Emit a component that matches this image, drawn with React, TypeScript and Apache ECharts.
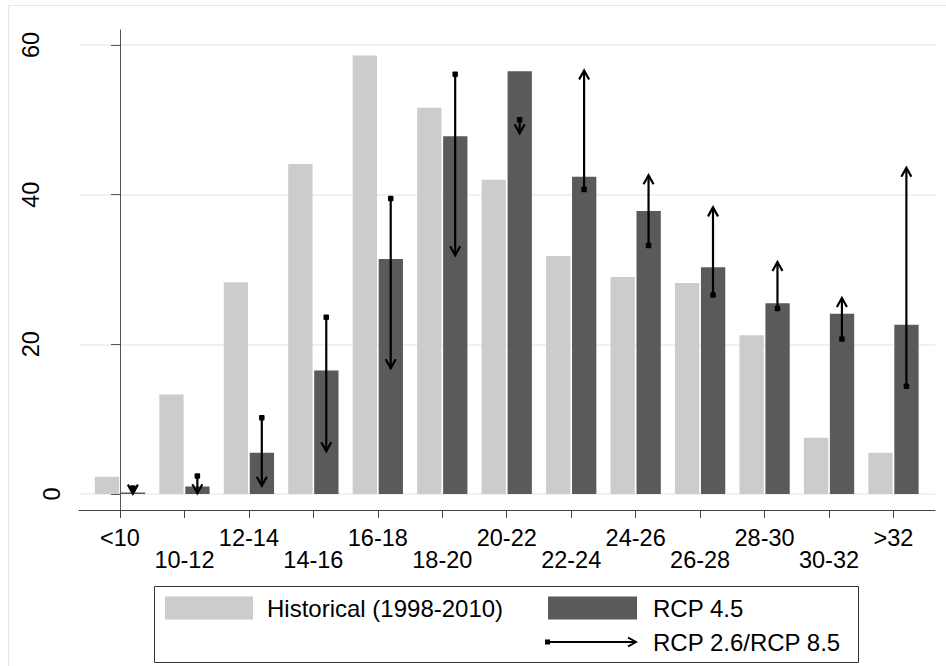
import React, { useEffect, useRef } from "react";
import * as echarts from "echarts";

const categories = ["<10", "10-12", "12-14", "14-16", "16-18", "18-20", "20-22", "22-24", "24-26", "26-28", "28-30", "30-32", ">32"];
const historical = [2.3, 13.3, 28.3, 44.1, 58.6, 51.6, 42.0, 31.8, 29.0, 28.2, 21.2, 7.5, 5.5];
const rcp45 = [0.2, 1.0, 5.5, 16.5, 31.4, 47.8, 56.5, 42.4, 37.8, 30.3, 25.5, 24.1, 22.6];
const rcp26 = [0.8, 2.4, 10.2, 23.6, 39.5, 56.1, 50.0, 40.7, 33.2, 26.6, 24.8, 20.7, 14.4];
const rcp85 = [0.05, 0.1, 1.1, 5.7, 16.8, 31.9, 48.2, 56.6, 42.6, 38.3, 31.0, 26.2, 43.6];
const yTicks = [0, 20, 40, 60];

const FONT = "'Liberation Sans', Arial, sans-serif";
const LIGHT = "#cccccc";
const DARK = "#5a5a5a";

function barSeries(name: string, values: number[], x0: number, x1: number, color: string) {
  return {
    type: "custom",
    name,
    itemStyle: { color },
    data: values.map((v, i) => [i, v]),
    encode: { x: 0, y: 1 },
    renderItem: (params: any, api: any) => {
      const i = api.value(0);
      const v = api.value(1);
      const p0 = api.coord([i + x0, v]);
      const p1 = api.coord([i + x1, 0]);
      return {
        type: "rect",
        shape: { x: p0[0], y: p0[1], width: p1[0] - p0[0], height: p1[1] - p0[1] },
        style: { fill: color },
      };
    },
  };
}

export default function App() {
  const ref = useRef<HTMLDivElement>(null);
  useEffect(() => {
    document.body.style.margin = "0";
    const chart = echarts.init(ref.current!, null, { renderer: "svg" });
    const arrowData = rcp26.map((s, i) => [i, s, rcp85[i]]);
    const labelBase = { fontFamily: FONT, fontSize: 23.5, color: "#000" };
    chart.setOption({
      animation: false,
      backgroundColor: "#ffffff",
      grid: { left: 79, right: 11, top: 30, bottom: 156 },
      xAxis: {
        type: "value",
        min: -0.636,
        max: 12.644,
        splitLine: { show: false },
        axisLine: { show: true, onZero: false, lineStyle: { color: "#444", width: 1 } },
        axisTick: {
          show: true,
          length: 8,
          customValues: categories.map((_, i) => i),
          lineStyle: { color: "#444" },
        },
        axisLabel: {
          customValues: categories.map((_, i) => i),
          formatter: (v: number) => {
            const i = Math.round(v);
            return i % 2 === 1 ? "\n" + categories[i] : categories[i];
          },
          margin: 17,
          lineHeight: 22,
          ...labelBase,
        },
      },
      yAxis: {
        type: "value",
        min: -2.14,
        max: 62.0,
        axisLine: { show: true, lineStyle: { color: "#555", width: 1 } },
        axisTick: { show: true, length: 9, customValues: yTicks, lineStyle: { color: "#555" } },
        axisLabel: {
          customValues: yTicks,
          rotate: 90,
          margin: 15,
          ...labelBase,
          formatter: (v: number) => (v === 0 ? "{z|" + v + "}" : "{n|" + v + "}"),
          rich: {
            z: { ...labelBase },
            n: { ...labelBase, padding: [0, 0, 21, 0] },
          },
        },
        splitLine: { show: true, lineStyle: { color: "#e6eff2", width: 1.5 } },
      },
      legend: [
        {
          data: [{ name: "Historical (1998-2010)", icon: "rect", itemStyle: { color: LIGHT } }],
          left: 165,
          top: 596,
          itemWidth: 88,
          itemHeight: 23,
          padding: 0,
          selectedMode: false,
          textStyle: { fontFamily: FONT, fontSize: 24, color: "#000", padding: [0, 0, 0, 9] },
        },
        {
          data: [{ name: "RCP 4.5", icon: "rect", itemStyle: { color: DARK } }],
          left: 548,
          top: 596,
          itemWidth: 89,
          itemHeight: 23,
          padding: 0,
          selectedMode: false,
          textStyle: { fontFamily: FONT, fontSize: 24, color: "#000", padding: [0, 0, 0, 11] },
        },
        {
          data: [
            {
              name: "RCP 2.6/RCP 8.5",
              icon: "path://M3,5L91,5L91,7L3,7Z M0,3.5L5,3.5L5,8.5L0,8.5Z M83.5,0.8L93,6L83.5,11.2L82.6,9.6L89.6,6L82.6,2.4Z",
              itemStyle: { color: "#000" },
            },
          ],
          left: 545,
          top: 630,
          itemWidth: 93,
          itemHeight: 10.4,
          padding: 0,
          selectedMode: false,
          textStyle: { fontFamily: FONT, fontSize: 24, color: "#000", padding: [0, 0, 0, 10] },
        },
      ],
      graphic: [
        {
          type: "rect",
          shape: { x: 8.5, y: 5.5, width: 1000, height: 1000 },
          style: { fill: "none", stroke: "#e6e6e6", lineWidth: 1 },
          silent: true,
          z: -10,
        },
        {
          type: "rect",
          shape: { x: 154.5, y: 586.5, width: 704, height: 76 },
          style: { fill: "none", stroke: "#333", lineWidth: 1 },
          silent: true,
        },
      ],
      series: [
        barSeries("Historical (1998-2010)", historical, -0.39, -0.013, LIGHT),
        barSeries("RCP 4.5", rcp45, 0.013, 0.39, DARK),
        {
          type: "custom",
          name: "RCP 2.6/RCP 8.5",
          itemStyle: { color: "#000" },
          data: arrowData,
          encode: { x: 0, y: [1, 2] },
          z: 5,
          renderItem: (params: any, api: any) => {
            const i = api.value(0);
            const s = api.coord([i + 0.2, api.value(1)]);
            const e = api.coord([i + 0.2, api.value(2)]);
            const u = e[1] > s[1] ? 1 : -1;
            return {
              type: "group",
              children: [
                {
                  type: "line",
                  shape: { x1: s[0], y1: s[1], x2: e[0], y2: e[1] },
                  style: { stroke: "#000", lineWidth: 2.2 },
                },
                {
                  type: "polyline",
                  shape: { points: [[e[0] - 5, e[1] - u * 9], [e[0], e[1]], [e[0] + 5, e[1] - u * 9]] },
                  style: { stroke: "#000", lineWidth: 2.2, fill: "none" },
                },
                {
                  type: "rect",
                  shape: { x: s[0] - 2.75, y: s[1] - 2.75, width: 5.5, height: 5.5, r: 1 },
                  style: { fill: "#000" },
                },
              ],
            };
          },
        },
      ],
    });
    return () => chart.dispose();
  }, []);
  return <div ref={ref} style={{ width: 946, height: 666 }} />;
}
